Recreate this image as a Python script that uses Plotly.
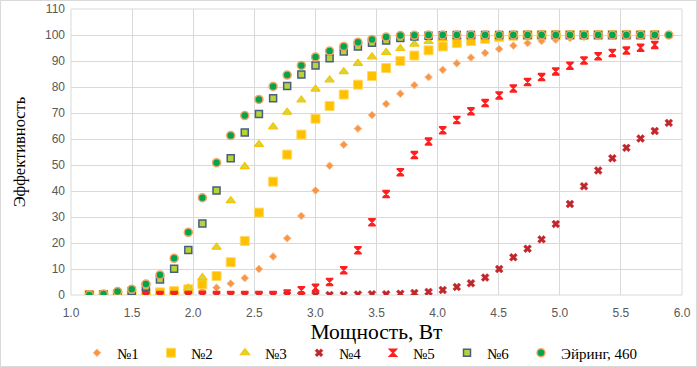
import plotly.graph_objects as go

power = [1.150, 1.266, 1.381, 1.497, 1.613, 1.728, 1.844, 1.960, 2.075, 2.191,
         2.307, 2.422, 2.538, 2.654, 2.769, 2.885, 3.001, 3.116, 3.232, 3.348,
         3.463, 3.579, 3.695, 3.810, 3.926, 4.042, 4.157, 4.273, 4.389, 4.504,
         4.620, 4.736, 4.851, 4.967, 5.083, 5.198, 5.314, 5.430, 5.545, 5.661,
         5.777, 5.892]

s1 = [0, 0, 0, 0, 0, 0, 0.3, 0.8, 1.6, 2.8, 4.4, 6.5, 10.0, 14.8, 21.8, 30.4,
      40.2, 49.7, 57.8, 64.0, 69.2, 73.5, 77.4, 80.7, 83.8, 86.6, 89.1, 91.3,
      93.1, 94.6, 95.9, 96.9, 97.7, 98.2, 98.8, 99.2, 99.5, 99.7, 99.9, 100, 100]
s2 = [0, 0, 0.1, 0.3, 0.5, 1.0, 1.5, 2.2, 4.1, 7.3, 12.6, 20.8, 31.7, 43.6,
      54.0, 61.7, 67.8, 72.7, 77.1, 80.9, 84.2, 87.3, 90.0, 92.1, 94.1, 95.6,
      96.9, 97.7, 98.5, 99.2, 99.7, 99.9, 100, 100, 100, 100, 100, 100, 100,
      100, 100]
s3 = [0, 0, 0.1, 0.3, 0.5, 0.8, 1.2, 2.6, 6.7, 18.4, 36.3, 49.4, 57.9, 64.7,
      70.3, 75.0, 79.2, 82.7, 85.9, 89.1, 91.6, 93.3, 94.8, 96.5, 97.5, 98.6,
      99.3, 99.7, 100, 100, 100, 100, 100, 100, 100, 100, 100, 100, 100, 100, 100]
s4 = [0, 0, 0, 0, 0, 0, 0, 0, 0, 0, 0, 0, 0, 0, 0, 0, 0, 0, 0, 0.2, 0.3, 0.3,
      0.5, 0.8, 1.2, 1.9, 3.1, 4.5, 6.7, 10.0, 14.5, 17.8, 21.4, 27.3, 35.0,
      41.8, 47.9, 52.6, 56.6, 60.2, 63.1, 66.2]
s5 = [0, 0, 0, 0, 0, 0, 0, 0, 0, 0, 0, 0, 0, 0, 0.6, 1.8, 2.8, 5.0, 9.5, 17.2,
      28.0, 38.8, 47.2, 53.8, 59.0, 63.4, 67.3, 70.7, 73.8, 76.7, 79.4, 81.9,
      83.8, 86.0, 88.2, 90.2, 91.8, 93.1, 94.0, 95.1, 96.2]
s6 = [0, 0.2, 0.6, 1.5, 3.2, 6.0, 10.1, 17.3, 27.5, 40.2, 52.6, 62.5, 69.6,
      75.7, 80.4, 84.8, 88.3, 91.1, 93.7, 95.6, 97.0, 97.9, 98.8, 99.4, 99.7,
      99.9, 100, 100, 100, 100, 100, 100, 100, 100, 100, 100, 100, 100, 100,
      100, 100]
eyring = [0, 0.4, 1.3, 2.2, 4.2, 7.7, 14.1, 24.1, 37.4, 50.9, 61.3, 69.0, 75.2,
          80.2, 84.6, 88.3, 91.5, 93.8, 95.6, 97.2, 98.3, 99.2, 99.8, 99.9,
          100, 100, 100, 100, 100, 100, 100, 100, 100, 100, 100, 100, 100, 100,
          100, 100, 100, 100]

names = ["№1", "№2", "№3", "№4", "№5", "№6", "Эйринг, 460"]
x_ticks = [1.0, 1.5, 2.0, 2.5, 3.0, 3.5, 4.0, 4.5, 5.0, 5.5, 6.0]
y_ticks = list(range(0, 111, 10))

styles = [
    dict(symbol="diamond", size=6, color="#F79646", line=dict(color="#FBC9A0", width=1)),
    dict(symbol="square", size=9, color="#FFC000", line=dict(color="#FFD966", width=1)),
    dict(symbol="triangle-up", size=8, color="#C9DC3C", line=dict(color="#FFC000", width=1.2)),
    dict(symbol="x", size=7, color="#C0272D", line=dict(color="#C0272D", width=0.5)),
    dict(symbol="hourglass", size=7, color="#FF1F1F", line=dict(color="#FF1F1F", width=1.5)),
    dict(symbol="square", size=7, color="#B5D33A", line=dict(color="#4A5E7E", width=1.5)),
    dict(symbol="circle", size=8, color="#00A550", line=dict(color="#F4A460", width=1.5)),
]
series = [s1, s2, s3, s4, s5, s6, eyring]
legend_refs = ["legend"] * 6 + ["legend2"]

fig = go.Figure()
for name, ys, st, lg in zip(names, series, styles, legend_refs):
    fig.add_trace(go.Scatter(
        x=power[:len(ys)], y=ys, mode="markers", name=name,
        marker=st, legend=lg,
    ))

L, R, T, B = 71, 15, 9, 72
PW, PH = 697 - L - R, 367 - T - B
LEG_X = 77
STEP = 74
leg_common = dict(orientation="h", xanchor="left",
                  y=-(353 - (T + PH)) / PH, yanchor="middle",
                  font=dict(family="Liberation Serif", size=15, color="#000000"),
                  entrywidth=STEP - 45, entrywidthmode="pixels", itemwidth=30,
                  traceorder="normal", bgcolor="rgba(0,0,0,0)")

fig.update_layout(
    width=697, height=367,
    margin=dict(l=L, r=R, t=T, b=B, autoexpand=False),
    paper_bgcolor="white", plot_bgcolor="white",
    showlegend=True,
    legend=dict(x=(LEG_X - L) / PW, **leg_common),
    legend2=dict(x=(LEG_X + 6 * STEP - L) / PW,
                 **{k: v for k, v in leg_common.items() if k != "entrywidth"},
                 entrywidth=100),
    xaxis=dict(range=[1.0, 6.0], tickvals=x_ticks, ticktext=[f"{v:.1f}" for v in x_ticks],
               showgrid=True, gridcolor="#D9D9D9", gridwidth=1, zeroline=False,
               showline=False, ticks="", ticklabelstandoff=9,
               tickfont=dict(family="Liberation Sans", size=12, color="#595959"),
               title=dict(text="Мощность, Вт", standoff=1,
                          font=dict(family="Liberation Serif", size=21.5, color="#000000"))),
    yaxis=dict(range=[0, 110], tickvals=y_ticks,
               showgrid=True, gridcolor="#D9D9D9", gridwidth=1, zeroline=False,
               showline=False, ticks="", ticklabelstandoff=5,
               tickfont=dict(family="Liberation Sans", size=12, color="#595959"),
               title=dict(text="Эффективность", standoff=15,
                          font=dict(family="Liberation Serif", size=16.5, color="#000000"))),
    shapes=[dict(type="rect", xref="paper", yref="paper", x0=0, x1=1, y0=0, y1=1,
                 line=dict(color="#D9D9D9", width=1), layer="below"),
            dict(type="rect", xref="paper", yref="paper",
                 x0=-(L - 0.5) / PW, x1=(696.5 - L) / PW,
                 y0=-(366.5 - (T + PH)) / PH, y1=(T + PH - 0.5) / PH,
                 line=dict(color="#D9D9D9", width=1), layer="below")],
)

fig.write_html("out.html", config={"displayModeBar": False},
               post_script="document.body.style.margin='0';document.body.style.padding='0';")
